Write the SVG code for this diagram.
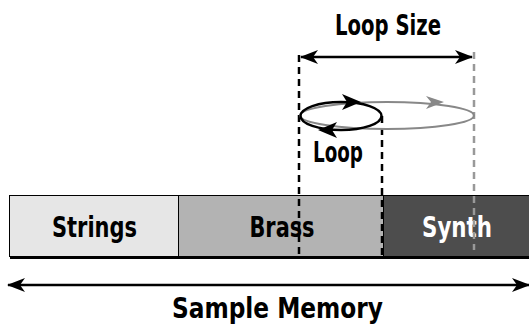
<svg xmlns="http://www.w3.org/2000/svg" width="529" height="328" viewBox="0 0 529 328">
<defs>
<marker id="ah" viewBox="0 0 18 14" refX="17" refY="7" markerWidth="18" markerHeight="14" markerUnits="userSpaceOnUse" orient="auto-start-reverse">
<path d="M0,0 L18,7 L0,14 L5,7 Z" fill="#000"/>
</marker>
</defs>
<style>
.lbl{font-family:"DejaVu Sans Condensed","DejaVu Sans",sans-serif;font-weight:bold;font-size:28px;fill:#000}
.dash{stroke:#000;stroke-width:2.5;stroke-dasharray:7,5;fill:none}
.arrow{stroke:#000;stroke-width:2.4;fill:none}
</style>
<rect width="529" height="328" fill="#fff"/>
<g id="bar">
<g id="strings">
<rect x="9.5" y="195.5" width="169" height="61" fill="#e6e6e6" stroke="#000" stroke-width="1"/>
<text class="lbl" x="94.5" y="237" text-anchor="middle" textLength="85" lengthAdjust="spacingAndGlyphs">Strings</text>
</g>
<g id="brass">
<rect x="178.5" y="195.5" width="205" height="61" fill="#b3b3b3" stroke="#000" stroke-width="1"/>
<text class="lbl" x="282" y="237" text-anchor="middle" textLength="65" lengthAdjust="spacingAndGlyphs">Brass</text>
</g>
<g id="synth">
<rect x="383.5" y="195.5" width="150" height="61" fill="#4d4d4d" stroke="#000" stroke-width="1"/>
<text class="lbl" x="457" y="237" text-anchor="middle" textLength="70" lengthAdjust="spacingAndGlyphs" style="fill:#fff">Synth</text>
</g>
<rect x="10" y="256.5" width="519" height="2.5" fill="#000"/>
</g>
<g id="connectors">
<line class="dash" x1="299" y1="55" x2="299" y2="256"/>
<line class="dash" x1="382" y1="116" x2="382" y2="256"/>
<line class="dash" x1="474" y1="52" x2="474" y2="250" style="stroke:#999"/>
<line class="arrow" x1="301" y1="57" x2="472" y2="57" marker-start="url(#ah)" marker-end="url(#ah)"/>
<line class="arrow" x1="8" y1="285" x2="529" y2="285" marker-start="url(#ah)" marker-end="url(#ah)"/>
<g id="gray-loop">
<ellipse cx="387" cy="115.5" rx="87" ry="13.5" fill="none" stroke="#888" stroke-width="2"/>
<path d="M426,96 L444,102 L426,109 L431,102 Z" fill="#888"/>
</g>
<g id="black-loop">
<ellipse cx="341" cy="116" rx="40.5" ry="14" fill="none" stroke="#000" stroke-width="2.5"/>
<path d="M342,94 L361,102 L342,110 L347,102 Z" fill="#000"/>
<path d="M337,122 L318,130 L337,138 L332,130 Z" fill="#000"/>
</g>
</g>
<g id="labels">
<text class="lbl" x="388" y="35" text-anchor="middle" textLength="106" lengthAdjust="spacingAndGlyphs">Loop Size</text>
<text class="lbl" x="338" y="162" text-anchor="middle" textLength="50" lengthAdjust="spacingAndGlyphs">Loop</text>
<text class="lbl" x="277.5" y="318" text-anchor="middle" textLength="211" lengthAdjust="spacingAndGlyphs">Sample Memory</text>
</g>
</svg>
